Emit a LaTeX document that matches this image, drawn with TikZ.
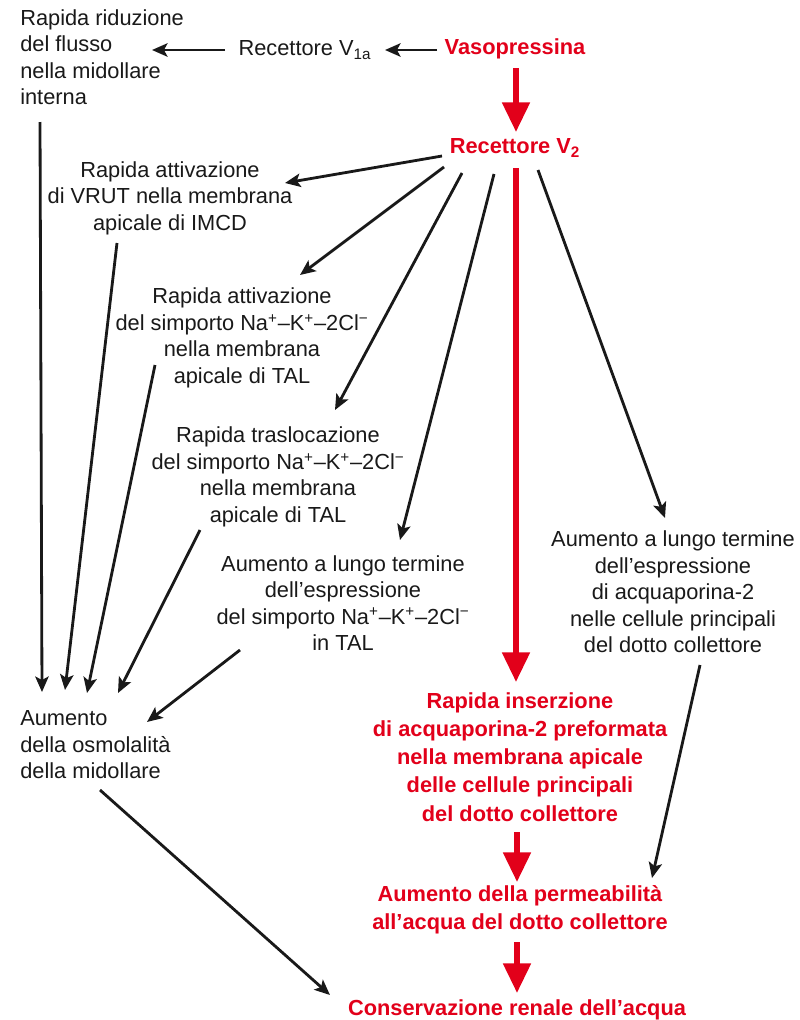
\documentclass[tikz,border=0pt]{standalone}
\usepackage{fontspec}
\setmainfont{Liberation Sans}
\usetikzlibrary{arrows.meta}
\definecolor{vasored}{RGB}{226,0,26}
\newcommand{\simporto}{del simporto Na\textsuperscript{+}–K\textsuperscript{+}–2Cl\textsuperscript{−}}

\begin{document}
\begin{tikzpicture}[x=0.025cm,y=-0.025cm,
  txt/.style={align=center,inner sep=0pt,font=\fontsize{15.5}{18.8}\selectfont,text=black!90},
  redtxt/.style={align=center,inner sep=0pt,font=\fontsize{15.5}{20}\selectfont\bfseries,text=vasored},
  blk/.style={black!90,line width=2pt,-{Stealth[length=11pt,width=9.5pt,inset=2.5pt]}},
  redarr/.style={vasored,line width=4pt,-{Triangle[length=21pt,width=19pt]}}]
\useasboundingbox (0,0) rectangle (800,1020);

% top row
\node[txt,align=left,anchor=west] (riduz) at (20,57) {Rapida riduzione\\del flusso\\nella midollare\\interna};
\node[txt] (v1a) at (305,50) {Recettore V\textsubscript{1a}};
\node[redtxt] (vaso) at (515,49) {Vasopressina};
\node[redtxt] (v2) at (515,148) {Recettore V\textsubscript{2}};

% effetti sul V2
\node[txt] (vrut) at (170,198) {Rapida attivazione\\di VRUT nella membrana\\apicale di IMCD};
\node[txt] (attiv) at (242,338) {Rapida attivazione\\\simporto\\nella membrana\\apicale di TAL};
\node[txt] (trasl) at (278,477) {Rapida traslocazione\\\simporto\\nella membrana\\apicale di TAL};
\node[txt] (lungoTAL) at (343,603) {Aumento a lungo termine\\dell’espressione\\\simporto\\in TAL};
\node[txt] (lungoAQP) at (673,592) {Aumento a lungo termine\\dell’espressione\\di acquaporina-2\\nelle cellule principali\\del dotto collettore};
\node[txt,align=left,anchor=west] (osmol) at (20,745) {Aumento\\della osmolalità\\della midollare};

% percorso principale
\node[redtxt] (inser) at (520,757) {Rapida inserzione\\di acquaporina-2 preformata\\nella membrana apicale\\delle cellule principali\\del dotto collettore};
\node[redtxt] (perm) at (520,910) {Aumento della permeabilità\\all’acqua del dotto collettore};
\node[redtxt] (cons) at (517,1010) {Conservazione renale dell’acqua};

% frecce
\draw[blk] ([shift={(-78,1)}]vaso.center) -- ([shift={(80,0)}]v1a.center);
\draw[blk] ([shift={(-80,0)}]v1a.center) -- ([shift={(132,-7)}]riduz.west);
\draw[redarr] ([shift={(1,19)}]vaso.center) -- ([shift={(1,-16)}]v2.center);

\draw[blk] ([shift={(-73,8)}]v2.center) -- ([shift={(115,-15)}]vrut.center);
\draw[blk] ([shift={(-71,19)}]v2.center) -- ([shift={(58,-63)}]attiv.center);
\draw[blk] ([shift={(-53,25)}]v2.center) -- ([shift={(57,-67)}]trasl.center);
\draw[blk] ([shift={(-21,26)}]v2.center) -- ([shift={(57,-63)}]lungoTAL.center);
\draw[blk] ([shift={(23,22)}]v2.center) -- ([shift={(-8,-74)}]lungoAQP.center);
\draw[redarr] ([shift={(1,20)}]v2.center) -- ([shift={(-4,-75)}]inser.center);

\draw[blk] ([shift={(20,65)}]riduz.west) -- ([shift={(22,-53)}]osmol.west);
\draw[blk] ([shift={(-53,45)}]vrut.center) -- ([shift={(45,-55)}]osmol.west);
\draw[blk] ([shift={(-87,27)}]attiv.center) -- ([shift={(67,-52)}]osmol.west);
\draw[blk] ([shift={(-78,53)}]trasl.center) -- ([shift={(98,-52)}]osmol.west);
\draw[blk] ([shift={(-103,47)}]lungoTAL.center) -- ([shift={(127,-23)}]osmol.west);

\draw[redarr] ([shift={(-3,75)}]inser.center) -- ([shift={(-3,-28)}]perm.center);
\draw[blk] ([shift={(27,73)}]lungoAQP.center) -- ([shift={(132,-32)}]perm.center);
\draw[redarr] ([shift={(-3,32)}]perm.center) -- ([shift={(0,-17)}]cons.center);
\draw[blk] ([shift={(80,45)}]osmol.west) -- ([shift={(-187,-15)}]cons.center);
\end{tikzpicture}
\end{document}
